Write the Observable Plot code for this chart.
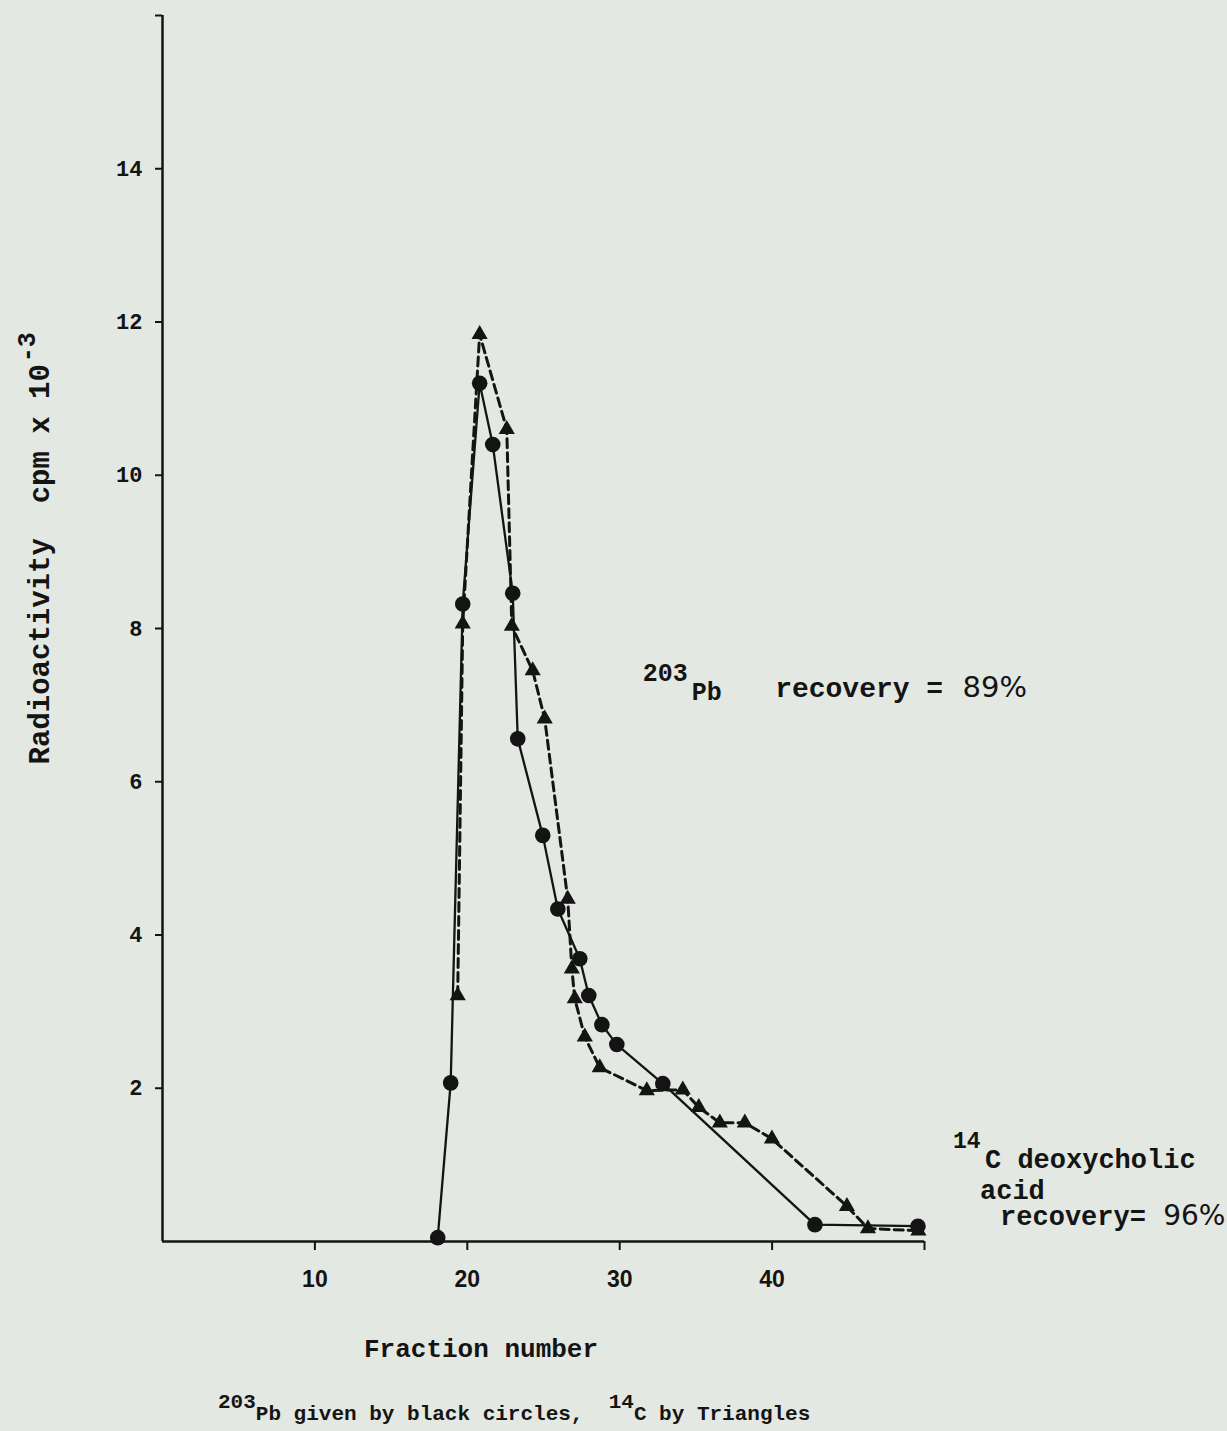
<!DOCTYPE html>
<html>
<head>
<meta charset="utf-8">
<script src="https://cdn.jsdelivr.net/npm/d3@7"></script>
<script src="https://cdn.jsdelivr.net/npm/@observablehq/plot@0.6"></script>
<style>
  html, body { margin: 0; padding: 0; background: #e4e8e2; }
  #wrap { position: relative; width: 1227px; height: 1431px; overflow: hidden; }
  #chart svg { display: block; }
  #caption {
    position: absolute; left: 218px; top: 1404px; white-space: pre;
    font: bold 21px "Liberation Mono", monospace; color: #141414; line-height: 1;
  }
  #caption .sup { position: relative; top: -0.55em; }
</style>
</head>
<body>
<div id="wrap">
  <div id="chart"></div>
  <div id="caption"><span class="sup">203</span>Pb given by black circles,  <span class="sup">14</span>C by Triangles</div>
</div>
<script>
// 203Pb (black circles, solid line)
const pbFraction = [18.06, 18.91, 19.70, 20.81, 21.67, 22.98, 23.31, 24.95, 25.94, 27.38, 27.97, 28.83, 29.81, 32.83, 42.81, 49.57];
const pbActivity = [0.05, 2.07, 8.32, 11.20, 10.40, 8.46, 6.56, 5.30, 4.34, 3.69, 3.21, 2.83, 2.57, 2.06, 0.22, 0.20];
// 14C deoxycholic acid (triangles, dashed line)
const cFraction = [19.37, 19.70, 20.81, 22.59, 22.92, 24.29, 25.08, 26.59, 26.86, 27.05, 27.71, 28.69, 31.78, 34.14, 35.19, 36.57, 38.21, 39.99, 44.91, 46.29, 49.6];
const cActivity = [3.21, 8.06, 11.84, 10.60, 8.03, 7.45, 6.82, 4.47, 3.56, 3.17, 2.67, 2.27, 1.97, 1.98, 1.75, 1.55, 1.55, 1.34, 0.46, 0.17, 0.14];
// axes
const xTicks = [10, 20, 30, 40, 50];
const xTickLabels = ["10", "20", "30", "40", ""];
const yTicks = [2, 4, 6, 8, 10, 12, 14, 16];
const yTickLabels = ["2", "4", "6", "8", "10", "12", "14", ""];

const pbData = pbFraction.map((x, i) => ({x, y: pbActivity[i]}));
const cData = cFraction.map((x, i) => ({x, y: cActivity[i]}));

const ink = "#141414";
const mono = "'Liberation Mono', monospace";
const W = 1227, H = 1380;

const plot = Plot.plot({
  width: W, height: H,
  marginLeft: 162, marginRight: 303, marginTop: 15, marginBottom: H - 1241,
  style: {background: "transparent", overflow: "visible", color: ink, fontFamily: mono},
  x: {domain: [0, 50], axis: null},
  y: {domain: [0, 16], axis: null},
  marks: [
    Plot.axisX({ticks: xTicks, tickFormat: d => xTickLabels[xTicks.indexOf(d)], tickSize: 9, tickPadding: 20,
      strokeWidth: 2, fontSize: 23, fontWeight: "bold", fontFamily: "'Liberation Sans', sans-serif", label: null}),
    Plot.axisY({ticks: yTicks, tickFormat: d => yTickLabels[yTicks.indexOf(d)], tickSize: 7, tickPadding: 13,
      strokeWidth: 2, fontSize: 22, fontWeight: "bold", fontFamily: mono, label: null}),
    Plot.ruleX([0], {y1: 0, y2: 16, stroke: ink, strokeWidth: 2.5}),
    Plot.ruleY([0], {x1: 0, x2: 50, stroke: ink, strokeWidth: 2.5}),
    Plot.line(cData, {x: "x", y: "y", stroke: ink, strokeWidth: 3, strokeDasharray: "9,5"}),
    Plot.line(pbData, {x: "x", y: "y", stroke: ink, strokeWidth: 2.3}),
    Plot.dot(cData, {x: "x", y: "y", symbol: "triangle", r: 6, fill: ink, stroke: "none"}),
    Plot.dot(pbData, {x: "x", y: "y", r: 7.8, fill: ink, stroke: "none"}),
    // y-axis title (rotated) with superscript
    Plot.text(["Radioactivity  cpm x 10"], {x: -7.42, y: 11.45, rotate: -90, textAnchor: "end", lineAnchor: "bottom",
      fontSize: 29, fontWeight: "bold", fontFamily: mono, fill: ink}),
    Plot.text(["-3"], {x: -7.42, y: 11.45, dx: -14, dy: -2, rotate: -90, textAnchor: "start", lineAnchor: "bottom",
      fontSize: 25, fontWeight: "bold", fontFamily: mono, fill: ink}),
    // x-axis title
    Plot.text(["Fraction number"], {x: 20.9, y: -1.51, textAnchor: "middle", lineAnchor: "bottom",
      fontSize: 26, fontWeight: "bold", fontFamily: mono, fill: ink}),
    // 203Pb annotation
    Plot.text(["203"], {x: 31.52, y: 7.32, textAnchor: "start", lineAnchor: "bottom", fontSize: 25, fontWeight: "bold", fontFamily: mono, fill: ink}),
    Plot.text(["Pb"], {x: 34.73, y: 7.07, textAnchor: "start", lineAnchor: "bottom", fontSize: 25, fontWeight: "bold", fontFamily: mono, fill: ink}),
    Plot.text(["recovery = "], {x: 40.2, y: 7.10, textAnchor: "start", lineAnchor: "bottom", fontSize: 28, fontWeight: "bold", fontFamily: mono, fill: ink}),
    Plot.text(["89%"], {x: 52.5, y: 7.10, textAnchor: "start", lineAnchor: "bottom", fontSize: 29, fontFamily: "'DejaVu Sans', sans-serif", fill: ink}),
    // 14C annotation
    Plot.text(["14"], {x: 51.87, y: 1.226, textAnchor: "start", lineAnchor: "bottom", fontSize: 23, fontWeight: "bold", fontFamily: mono, fill: ink}),
    Plot.text(["C deoxycholic"], {x: 53.97, y: 0.965, textAnchor: "start", lineAnchor: "bottom", fontSize: 27, fontWeight: "bold", fontFamily: mono, fill: ink}),
    Plot.text(["acid"], {x: 53.64, y: 0.561, textAnchor: "start", lineAnchor: "bottom", fontSize: 27, fontWeight: "bold", fontFamily: mono, fill: ink}),
    Plot.text(["recovery= "], {x: 54.96, y: 0.209, textAnchor: "start", lineAnchor: "bottom", fontSize: 27, fontWeight: "bold", fontFamily: mono, fill: ink}),
    Plot.text(["96%"], {x: 65.66, y: 0.209, textAnchor: "start", lineAnchor: "bottom", fontSize: 28, fontFamily: "'DejaVu Sans', sans-serif", fill: ink})
  ]
});
document.getElementById("chart").appendChild(plot);
</script>
</body>
</html>
